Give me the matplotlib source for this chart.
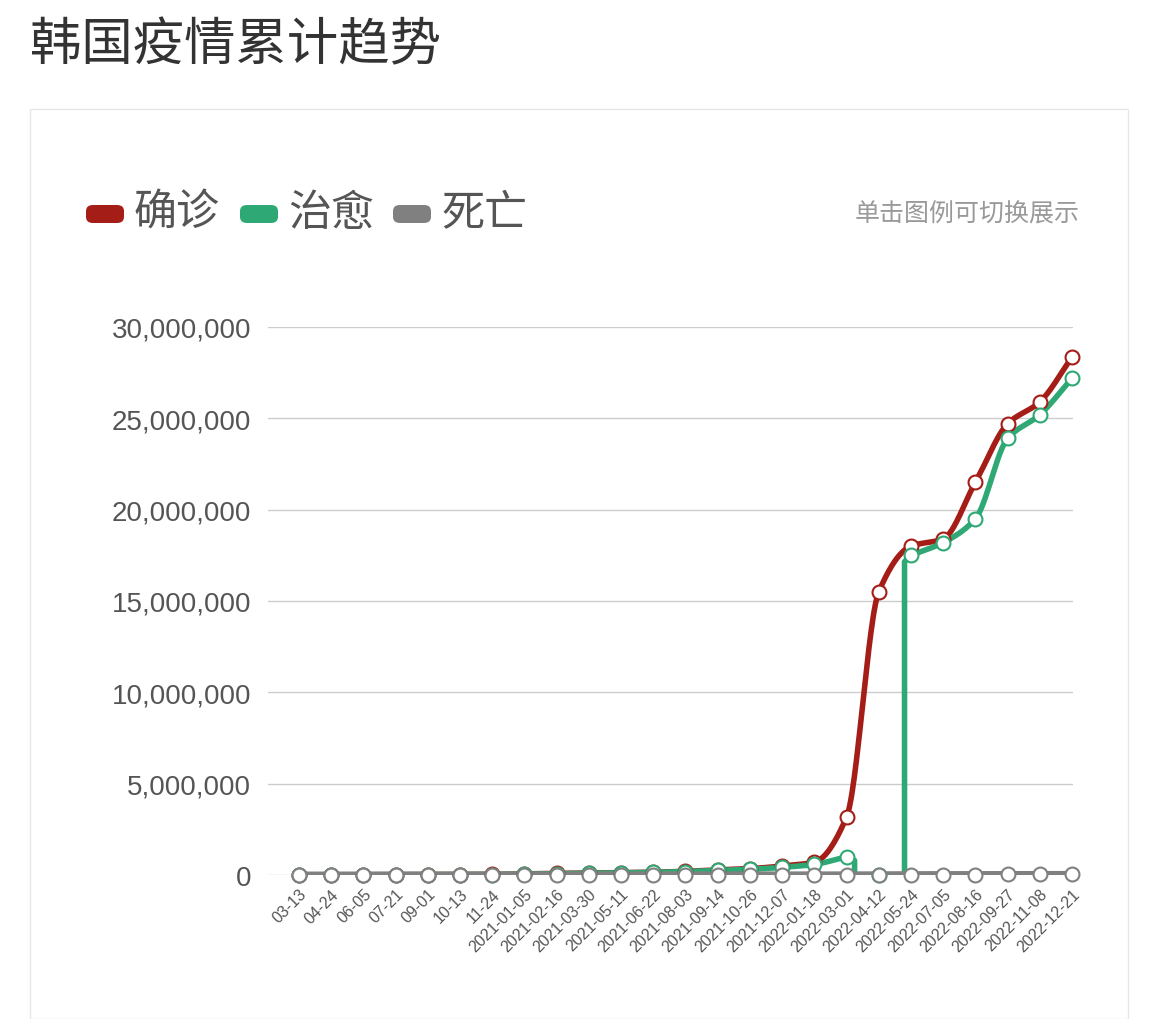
import numpy as np
import matplotlib
matplotlib.use("Agg")
import matplotlib.pyplot as plt
from matplotlib.patches import FancyBboxPatch, Rectangle
from matplotlib.ticker import FuncFormatter

plt.rcParams['font.family'] = ['Noto Sans CJK SC', 'DejaVu Sans']

dates = ["03-13", "04-24", "06-05", "07-21", "09-01", "10-13", "11-24",
         "2021-01-05", "2021-02-16", "2021-03-30", "2021-05-11", "2021-06-22",
         "2021-08-03", "2021-09-14", "2021-10-26", "2021-12-07", "2022-01-18",
         "2022-03-01", "2022-04-12", "2022-05-24", "2022-07-05", "2022-08-16",
         "2022-09-27", "2022-11-08", "2022-12-21"]
confirmed = [8000, 10700, 11700, 13800, 20000, 24800, 31400, 64000, 85000, 103000,
             128000, 153000, 203000, 277000, 350000, 490000, 700000, 3170000,
             15500000, 18000000, 18400000, 21500000, 24700000, 25900000, 28350000]
recovered = [0, 8400, 10500, 12600, 15000, 23000, 26500, 47000, 76000, 94000,
             118000, 143000, 185000, 248000, 310000, 420000, 580000, 1000000,
             0, 17500000, 18200000, 19500000, 23900000, 25200000, 27200000]
deaths = [70, 240, 270, 300, 320, 430, 510, 1000, 1500, 1700, 1900, 2000, 2100,
          2400, 2800, 4100, 6400, 8300, 19000, 24000, 24500, 26000, 28500, 30000, 32000]

RED, GREEN, GRAY = "#a51d17", "#2ea874", "#808080"

def pchip(x, y, n=30):
    x = np.asarray(x, float); y = np.asarray(y, float)
    h = np.diff(x); d = np.diff(y) / h
    m = np.zeros_like(y)
    for i in range(1, len(y) - 1):
        if d[i-1] * d[i] > 0:
            m[i] = 2 / (1 / d[i-1] + 1 / d[i])
    m[0] = d[0]; m[-1] = d[-1]
    xs, ys = [], []
    for i in range(len(h)):
        t = np.linspace(0, 1, n)
        h00 = 2*t**3 - 3*t**2 + 1; h10 = t**3 - 2*t**2 + t
        h01 = -2*t**3 + 3*t**2; h11 = t**3 - t**2
        xs.append(x[i] + t*h[i])
        ys.append(h00*y[i] + h10*h[i]*m[i] + h01*y[i+1] + h11*h[i]*m[i+1])
    return np.concatenate(xs), np.concatenate(ys)

fig = plt.figure(figsize=(11.6, 10.2), dpi=100)
fig.text(30/1160, 1-46/1020, "韩国疫情累计趋势", fontsize=37, color="#333333", va="center")
fig.patches.append(Rectangle((30/1160, 0), 1098/1160, 1-110/1020, transform=fig.transFigure,
                             fill=False, edgecolor="#e6e6e6", lw=1))

items = [("确诊", RED, 86), ("治愈", GREEN, 240), ("死亡", GRAY, 393)]
for lab, c, x0 in items:
    fig.patches.append(FancyBboxPatch((x0/1160, 1-224/1020), 38/1160, 18/1020,
                       boxstyle="round,pad=0,rounding_size=0.006", transform=fig.transFigure,
                       facecolor=c, edgecolor="none"))
    fig.text((x0+48)/1160, 1-214/1020, lab, fontsize=31, color="#555555", va="center")
fig.text(1080/1160, 1-215/1020, "单击图例可切换展示", fontsize=18, color="#999999",
         va="center", ha="right")

ax = fig.add_axes([268/1160, 1-876/1020, 805/1160, 548/1020])
x = np.arange(len(dates))
xs, ys = pchip(x, confirmed)
ax.plot(xs, ys, color=RED, lw=4, zorder=3)
# recovered: smooth before the gap, vertical drop/rise around the zero point
xs, ys = pchip(x[:18], recovered[:18])
ax.plot(xs, ys, color=GREEN, lw=4, zorder=3)
xs2, ys2 = pchip(x[19:], recovered[19:])
ax.plot(xs2, ys2, color=GREEN, lw=4, zorder=3)
ax.plot([17, 17.25, 17.25, 18.8, 18.8, 19],
        [recovered[17], recovered[17]*0.8, recovered[18], recovered[18],
         recovered[19]*0.98, recovered[19]], color=GREEN, lw=4, zorder=3)
xs, ys = pchip(x, deaths)
ax.plot(xs, ys, color=GRAY, lw=5, zorder=4)
for y, c in [(confirmed, RED), (recovered, GREEN), (deaths, GRAY)]:
    ax.plot(x, y, 'o', ms=10, mfc="white", mec=c, mew=1.5, zorder=5, clip_on=False)

ax.set_xlim(-0.96, 24.03)
ax.set_ylim(0, 30000000)
ax.set_yticks(np.arange(0, 30000001, 5000000))
ax.yaxis.set_major_formatter(FuncFormatter(lambda v, p: f"{int(v):,}"))
ax.grid(axis='y', color="#cccccc", lw=1)
ax.set_axisbelow(True)
for s in ax.spines.values():
    s.set_visible(False)
ax.tick_params(axis='y', length=0, labelsize=20, labelcolor="#555555", pad=12)
for t in ax.get_yticklabels():
    t.set_family(['Liberation Sans'])
ax.set_xticks(x)
ax.set_xticklabels(dates, rotation=45, ha="right", rotation_mode="anchor", fontsize=11.5,
                   color="#555555", family=['Liberation Sans'])
ax.tick_params(axis='x', length=0, pad=8)
fig.savefig("out.png", dpi=100)
